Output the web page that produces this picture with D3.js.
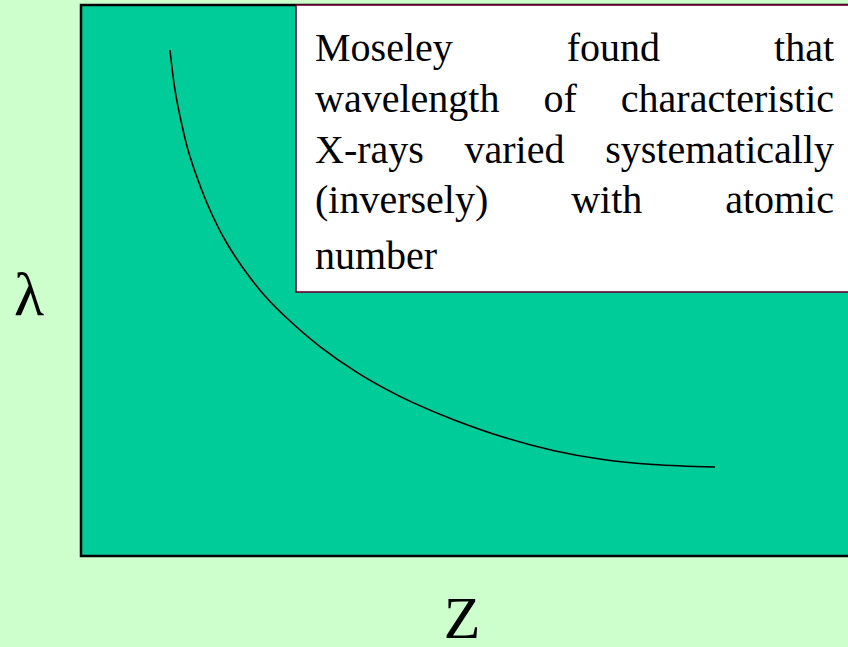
<!DOCTYPE html>
<html>
<head>
<meta charset="utf-8">
<script src="https://cdn.jsdelivr.net/npm/d3@7"></script>
<style>
  html, body { margin: 0; padding: 0; background: #ccffcc; overflow: hidden; }
  svg { display: block; }
</style>
</head>
<body>
<svg id="chart"></svg>
<script>
// Moseley curve: wavelength vs atomic number (arbitrary units)
const zValues = [11.42, 12.07, 12.90, 13.74, 15.02, 16.56, 18.49, 20.80, 23.62, 26.83, 30.68, 35.43, 39.02, 42.62, 47.75, 54.17, 60.59, 67.01, 73.43, 81.39];
const lambdaValues = [91.83, 84.57, 78.58, 73.68, 68.24, 62.79, 57.35, 52.27, 47.19, 42.65, 38.02, 33.32, 30.38, 27.84, 24.79, 21.60, 19.15, 17.51, 16.61, 16.15];

const xLabel = 'Z';
const yLabel = 'λ';
const noteLines = [
  'Moseley found that',
  'wavelength of characteristic',
  'X-rays varied systematically',
  '(inversely) with atomic',
  'number'
];

const width = 848;
const height = 647;
const plot = { left: 81, top: 5, right: 860, bottom: 556 };

const svg = d3.select('#chart')
  .attr('width', width)
  .attr('height', height);

svg.append('rect')
  .attr('width', width)
  .attr('height', height)
  .attr('fill', '#ccffcc');

// Scales
const xScale = d3.scaleLinear().domain([0, 100]).range([plot.left, plot.right]);
const yScale = d3.scaleLinear().domain([0, 100]).range([plot.bottom, plot.top]);

// Plot area
svg.append('rect')
  .attr('x', plot.left)
  .attr('y', plot.top)
  .attr('width', plot.right - plot.left)
  .attr('height', plot.bottom - plot.top)
  .attr('fill', '#00cc99')
  .attr('stroke', '#000')
  .attr('stroke-width', 2.5);

// Curve
const data = zValues.map((z, i) => ({ z, lambda: lambdaValues[i] }));
const line = d3.line()
  .x((d) => xScale(d.z))
  .y((d) => yScale(d.lambda))
  .curve(d3.curveCatmullRom.alpha(0.5));

svg.append('path')
  .datum(data)
  .attr('d', line)
  .attr('fill', 'none')
  .attr('stroke', '#000')
  .attr('stroke-width', 1.6);

// Note box
const box = { left: 296, top: 5, right: 870, bottom: 292 };
svg.append('rect')
  .attr('x', box.left)
  .attr('y', box.top)
  .attr('width', box.right - box.left)
  .attr('height', box.bottom - box.top)
  .attr('fill', '#fff')
  .attr('stroke', '#660033')
  .attr('stroke-width', 1.6);

const textLeft = 315;
const textRight = 834;
const baselines = [61, 112, 163, 213, 269];
const fontFamily = '"Liberation Serif", "Times New Roman", Times, serif';

// justified lines, last one left-aligned
noteLines.forEach((txt, i) => {
  const words = txt.split(' ');
  const g = svg.append('g');
  const nodes = words.map((w) => g.append('text')
    .attr('y', baselines[i])
    .attr('font-family', fontFamily)
    .attr('font-size', 40)
    .attr('fill', '#000')
    .text(w));
  const widths = nodes.map((n) => n.node().getComputedTextLength());
  const last = i === noteLines.length - 1;
  const gap = (last || words.length < 2)
    ? 10
    : (textRight - textLeft - d3.sum(widths)) / (words.length - 1);
  let x = textLeft;
  nodes.forEach((n, j) => {
    n.attr('x', x);
    x += widths[j] + gap;
  });
});

// Axis labels
svg.append('text')
  .attr('x', 29)
  .attr('y', 315)
  .attr('text-anchor', 'middle')
  .attr('font-family', fontFamily)
  .attr('font-size', 62)
  .text(yLabel);

svg.append('text')
  .attr('x', 462)
  .attr('y', 638)
  .attr('text-anchor', 'middle')
  .attr('font-family', fontFamily)
  .attr('font-size', 60)
  .text(xLabel);
</script>
</body>
</html>
